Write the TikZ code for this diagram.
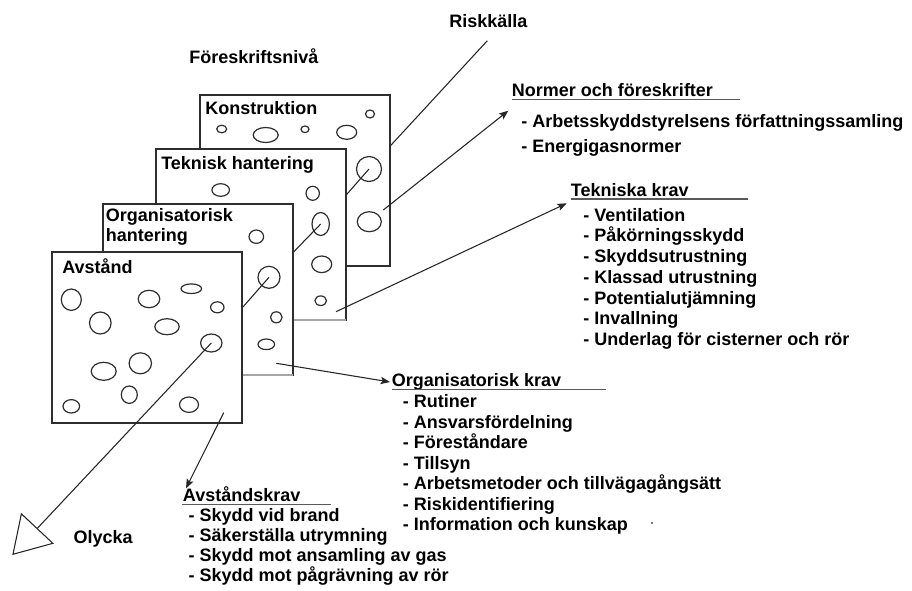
\documentclass[tikz,border=0pt]{standalone}
\usepackage{fontspec}
\setmainfont{Liberation Sans}
\usetikzlibrary{arrows.meta,shapes.geometric}
\begin{document}
\begin{tikzpicture}[x=0.75pt,y=-0.75pt,
  font=\fontsize{13.5}{15}\selectfont\bfseries,
  plane/.style={draw=black!82,line width=1.1pt,fill=white},
  hole/.style 2 args={ellipse,draw=black!82,line width=0.9pt,inner sep=0pt,
    outer sep=0pt,minimum width={1.5*#1},minimum height={1.5*#2}},
  txt/.style={inner sep=0pt,anchor=base west},
  path/.style={draw=black!85,line width=0.8pt},
  arr/.style={draw=black!85,line width=0.8pt,-{Stealth[length=7pt,width=5.5pt,inset=1.5pt]}},
  uline/.style={draw=black!65,line width=0.9pt},
  fade/.style={draw=black!35,line width=1.1pt}]

\useasboundingbox[fill=white] (0,0) rectangle (912,590);

% free ends of the connectors
\coordinate (src) at (487.3,40.7);
\coordinate (tipN) at (508.3,110.7);
\coordinate (tipT) at (566.7,203.3);
\coordinate (tipO) at (390,382);
\coordinate (tipA) at (186,488.3);
\coordinate (tipX) at (12.3,555);
\coordinate (fromN) at (383.3,210);
\coordinate (fromT) at (336,311.7);
\coordinate (fromO) at (276.3,363.3);
\coordinate (fromA) at (223.7,412.7);

% titles
\node[txt] (risk) at (449,27) {Riskkälla};
\node[txt] (niva) at (189,63) {Föreskriftsnivå};

% ---- layer 1: Konstruktion
\draw[path] (src) -- (369,169);
\draw[plane] (200,95) rectangle (390,266);
\node[txt] (lk) at (205,114) {Konstruktion};
\node[hole={5}{3.8}] (k1) at (221.7,129) {};
\node[hole={12.5}{7.5}] (k2) at (265.7,135) {};
\node[hole={4}{3.3}] (k3) at (305,129.3) {};
\node[hole={10}{7}] (k4) at (346.7,132.3) {};
\node[hole={4.5}{4}] (k5) at (370,114) {};
\node[hole={12.5}{12.5}] (kh) at (369,169) {};
\node[hole={12}{10}] (k6) at (369.3,221.7) {};

% ---- layer 2: Teknisk hantering
\coordinate (th) at (320.7,224);
\draw[path] (kh.center) -- (th);
\draw[arr] (fromN) -- (tipN);
\draw[plane] (156,149) rectangle (346,320);
\draw[fade] (156,320) -- (346,320);
\node[txt] (lt) at (161,169) {Teknisk hantering};
\node[hole={8.8}{6.3}] (t1) at (220.7,190) {};
\node[hole={6.7}{7}] (t2) at (312.7,193.3) {};
\node[hole={8.7}{11.5}] (th) at (320.7,224) {};
\node[hole={10}{8.3}] (t3) at (321.7,264.3) {};
\node[hole={5.8}{4.8}] (t4) at (320.7,300.7) {};

% ---- layer 3: Organisatorisk hantering
\draw[path] (th.center) -- (269,277.3);
\draw[arr] (fromT) -- (tipT);
\draw[plane] (103,204) rectangle (293,375);
\draw[fade] (103,375) -- (293,375);
\node[txt] (lo1) at (105.5,221) {Organisatorisk};
\node[txt] (lo2) at (105.5,241.7) {hantering};
\node[hole={7.3}{6.7}] (o1) at (256.3,236.7) {};
\node[hole={11}{11}] (oh) at (269,277.3) {};
\node[hole={5.8}{5.5}] (o2) at (276.3,317.3) {};
\node[hole={8.3}{5.3}] (o3) at (266.3,344.3) {};

% ---- layer 4: Avstånd
\draw[path] (oh.center) -- (211.3,343);
\draw[arr] (fromO) -- (tipO);
\draw[plane] (52,252) rectangle (242,423);
\node[txt] (la) at (62,273.7) {Avstånd};
\node[hole={10}{10.7}] (a1) at (71.3,299.7) {};
\node[hole={10.8}{11}] (a2) at (100.3,323) {};
\node[hole={10.8}{8.7}] (a3) at (149,299) {};
\node[hole={10.3}{4.8}] (a4) at (191.3,288.7) {};
\node[hole={6.7}{5.5}] (a5) at (217.3,307.3) {};
\node[hole={12.2}{8}] (a6) at (167,326.7) {};
\node[hole={10.7}{9}] (ah) at (211.3,343) {};
\node[hole={12.5}{9}] (a7) at (103.7,371.3) {};
\node[hole={11.2}{10.5}] (a8) at (140.3,363.3) {};
\node[hole={8}{8.7}] (a9) at (129.3,394.7) {};
\node[hole={8.3}{6.7}] (a10) at (71.3,406.3) {};
\node[hole={9.5}{7.7}] (a11) at (189,404.7) {};

% the accident path and the requirement arrow of the front layer
\draw[path,-{Triangle[open,length=27.6pt,width=33.6pt]}] (ah.center) -- (tipX);
\draw[arr] (fromA) -- (tipA);
\node[txt] (olycka) at (73.3,543.3) {Olycka};

% ---- requirement lists
\node[txt] (hN) at (511.7,96.7) {Normer och föreskrifter};
\draw[uline] (511.7,99.6) -- (740,99.6);
\node[txt] (n1) at (521,127) {- Arbetsskyddstyrelsens författningssamling};
\node[txt] (n2) at (521,152) {- Energigasnormer};

\node[txt] (hT) at (570.7,196) {Tekniska krav};
\draw[uline] (570.7,199) -- (748,199);
\foreach \t [count=\i] in {Ventilation,Påkörningsskydd,Skyddsutrustning,
    Klassad utrustning,Potentialutjämning,Invallning,Underlag för cisterner och rör}
  \node[txt] (tk\i) at (583,{221+20.75*(\i-1)}) {- \t};

\node[txt] (hO) at (391.7,386) {Organisatorisk krav};
\draw[uline] (391.7,389.3) -- (605.7,389.3);
\foreach \t [count=\i] in {Rutiner,Ansvarsfördelning,Föreståndare,Tillsyn,
    Arbetsmetoder och tillvägagångsätt,Riskidentifiering,Information och kunskap}
  \node[txt] (ok\i) at (402.7,{407.7+20.5*(\i-1)}) {- \t};
\node[circle,fill=black!70,inner sep=0pt,minimum size=1.6pt] (dot) at (652,523) {};

\node[txt] (hA) at (182.7,501.7) {Avståndskrav};
\draw[uline] (181.7,504.2) -- (331,504.2);
\foreach \t [count=\i] in {Skydd vid brand,Säkerställa utrymning,
    Skydd mot ansamling av gas,Skydd mot pågrävning av rör}
  \node[txt] (ak\i) at (188.3,{521.7+20*(\i-1)}) {- \t};

\end{tikzpicture}
\end{document}
